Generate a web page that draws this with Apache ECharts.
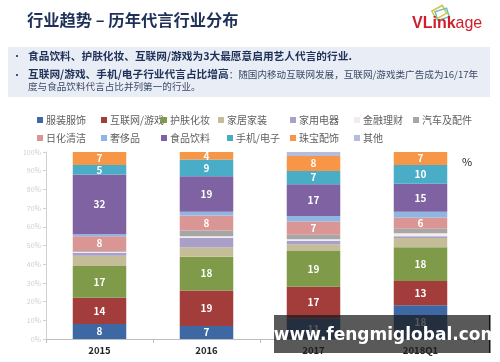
<!DOCTYPE html>
<html><head><meta charset="utf-8">
<script src="https://cdn.jsdelivr.net/npm/echarts@6/dist/echarts.min.js"></script>
<style>html,body{margin:0;padding:0;background:#fff}#c{width:500px;height:362px}</style>
</head><body><div id="c"></div>
<script>
const categories = ['2015', '2016', '2017', '2018Q1'];
const seriesNames = ['服装服饰','互联网/游戏','护肤化妆','家居家装','家用电器','金融理财','汽车及配件','日化清洁','奢侈品','食品饮料','手机/电子','珠宝配饰','其他'];
const fuzhuang   = [8, 7, 11, 18];
const hulianwang = [14, 19, 17, 13];
const hufu       = [17, 18, 19, 18];
const jiaju      = [5.5, 5, 3.5, 5];
const jiayong    = [1.5, 5.2, 2, 1];
const jinrong    = [0.7, 0.8, 0.8, 1.5];
const qiche      = [0.3, 3, 2.5, 2.5];
const rihua      = [8, 8, 7, 6];
const shechi     = [1, 2, 3, 3];
const shipin     = [32, 19, 17, 15];
const shouji     = [5, 9, 7, 10];
const zhubao     = [7, 4, 8, 7];
const qita       = [0, 0, 2.2, 0];
const yTicks = [0,10,20,30,40,50,60,70,80,90,100];

const values = [fuzhuang,hulianwang,hufu,jiaju,jiayong,jinrong,qiche,rihua,shechi,shipin,shouji,zhubao,qita];
const colors = ['#3d68a3','#a33d3b','#7f9a48','#c5bd98','#a99fc8','#f4ecec','#a6a6a6','#d99694','#8fb5e3','#7f62a2','#4aadc7','#f79646','#b4bde0'];
const labeled = new Set(['服装服饰','互联网/游戏','护肤化妆','日化清洁','食品饮料','手机/电子','珠宝配饰']);

const FONT = '"Noto Sans CJK SC", "Noto Sans", sans-serif';
const legendPos = [
  [37,115],[101,115],[161,115],[218,115],[290,115],[354,115],[413,115],
  [37,133],[101,133],[161,133],[227,133],[290,133],[354,133]
];
const legends = seriesNames.map((n,i)=>({
  data:[n], left:legendPos[i][0], top:legendPos[i][1], icon:'rect', itemWidth:6, itemHeight:6, itemGap:0,
  padding:0, textStyle:{fontSize:10, color:'#606060', fontFamily:FONT, padding:[0,0,0,-2]}, selectedMode:false
}));

const series = seriesNames.map((n,i)=>({
  name:n, type:'bar', stack:'all', barWidth:'50%', data:values[i],
  itemStyle:{color:colors[i]},
  label:{show:labeled.has(n), position:'inside', color:'#fff', fontWeight:'bold', fontSize:10, fontFamily:FONT,
    formatter:p=> p.value>=4 ? String(Math.round(p.value)) : ''}
}));

const chart = echarts.init(document.getElementById('c'), null, {renderer:'canvas'});
chart.setOption({
  animation:false,
  backgroundColor:'#fff',
  legend: legends,
  grid:{left:46, right:26, top:152, bottom:23},
  xAxis:{type:'category', data:categories,
    axisLine:{lineStyle:{color:'#bfbfbf'}},
    axisTick:{show:true, alignWithLabel:false, length:4, lineStyle:{color:'#bfbfbf'}},
    axisLabel:{color:'#262626', fontWeight:'bold', fontSize:9.5, fontFamily:FONT, margin:7}},
  yAxis:{type:'value', min:0, max:100, interval:10,
    axisLine:{show:true, lineStyle:{color:'#d0d0d0'}},
    axisTick:{show:true, length:3, lineStyle:{color:'#d0d0d0'}},
    splitLine:{show:false},
    axisLabel:{formatter:v=> yTicks.includes(v) ? v+'%' : '', color:'#cfcfcf', fontSize:7, fontFamily:FONT, margin:5}},
  series: series,
  graphic:[
    {type:'text', left:27, top:12, style:{text:'行业趋势 – 历年代言行业分布', fontSize:16.3, fontWeight:'bold', fill:'#1f3158', fontFamily:FONT}},
    {type:'group', left:412, top:2, children:[
      {type:'rect', shape:{x:21,y:2,width:12,height:9}, rotation:0.5, originX:27, originY:6, style:{fill:'none', stroke:'#d8c34a', lineWidth:1.5}},
      {type:'rect', shape:{x:24,y:4,width:12,height:9}, rotation:0.3, originX:30, originY:8, style:{fill:'none', stroke:'#6cc0b8', lineWidth:1.5}},
      {type:'text', x:0, y:10, style:{text:'{a|VLink}{b|age}', rich:{a:{fontSize:16, fontWeight:'bold', fill:'#cf1f2b', fontFamily:'Liberation Sans'}, b:{fontSize:16, fill:'#cf1f2b', fontFamily:'Liberation Sans'}}}}
    ]},
    {type:'rect', shape:{x:8,y:47,width:482,height:50}, style:{fill:'#e9edf5'}},
    {type:'text', left:12, top:51, style:{text:'•', fontSize:10, fill:'#1f3158', fontFamily:FONT}},
    {type:'text', left:28, top:51, style:{text:'食品饮料、护肤化妆、互联网/游戏为3大最愿意启用艺人代言的行业.', fontSize:10.7, fontWeight:'bold', fill:'#1f3158', fontFamily:FONT}},
    {type:'text', left:12, top:70, style:{text:'•', fontSize:10, fill:'#1f3158', fontFamily:FONT}},
    {type:'text', left:28, top:69, style:{text:'{a|互联网/游戏、手机/电子行业代言占比增高}{b|：随国内移动互联网发展，互联网/游戏类广告成为16/17年}\n{b|度与食品饮料代言占比并列第一的行业。}',
      rich:{a:{fontSize:10.7, fontWeight:'bold', fill:'#1f3158', fontFamily:FONT, lineHeight:12}, b:{fontSize:9.6, fill:'#3b4a66', fontFamily:FONT, lineHeight:12}}}},
    {type:'text', left:462, top:156, style:{text:'%', fontSize:11, fill:'#222', fontFamily:FONT}},
    {type:'rect', z:100, shape:{x:274,y:315,width:216,height:38}, style:{fill:'rgba(25,25,25,0.72)'}},
    {type:'rect', z:100, shape:{x:489,y:315,width:1.5,height:38}, style:{fill:'#111'}},
    {type:'text', z:101, x:386, y:336, style:{text:'www.fengmiglobal.com', fontSize:17, fontWeight:'bold', fill:'#fff', fontFamily:'DejaVu Sans', align:'center', verticalAlign:'middle'}}
  ]
});
</script></body></html>
